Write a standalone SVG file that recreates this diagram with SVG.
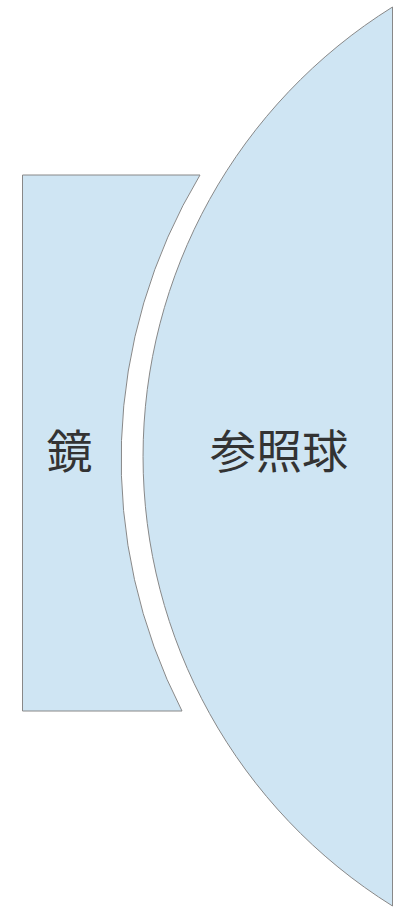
<svg xmlns="http://www.w3.org/2000/svg" width="401" height="909" viewBox="0 0 401 909">
<style>
.shape{fill:#cfe5f3;stroke:#888888;stroke-width:1}
.lbl{font-family:"Noto Sans CJK JP","Noto Sans CJK SC",sans-serif;font-size:46px;fill:#333333;text-anchor:middle;dominant-baseline:central}
</style>
<rect width="401" height="909" fill="#ffffff"/>
<g id="mirror">
<path class="shape" d="M22.5,175 L200,175 A551.7,551.7 0 0 0 182,711 L22.5,711 Z"/>
<text class="lbl" x="69.5" y="448">鏡</text>
</g>
<g id="sphere">
<path class="shape" d="M392.5,7 A529.7,529.7 0 0 0 392.5,906 Z"/>
<text class="lbl" x="279" y="448">参照球</text>
</g>
<g id="connectors"></g>
</svg>
